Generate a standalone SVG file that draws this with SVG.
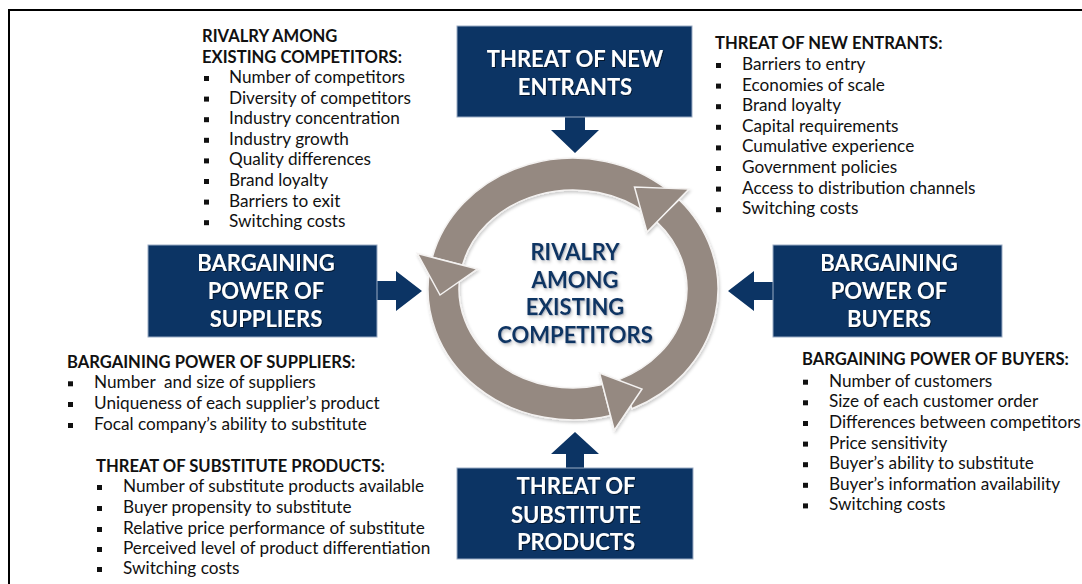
<svg xmlns="http://www.w3.org/2000/svg" width="1082" height="584" viewBox="0 0 1082 584">
  <defs>
    <style>
      .box { fill: #0c3464; stroke: #9aabc4; stroke-width: 1; }
      .boxtxt { fill: #ffffff; font-family: Lato, "Open Sans", sans-serif; font-weight: bold; font-size: 22px; text-anchor: middle; }
      .link { fill: #0c3464; }
      .ring { fill: #958981; stroke: #f4f2f1; stroke-width: 1.5; stroke-linejoin: miter; }
      .core { fill: #0c3464; font-family: Lato, "Open Sans", sans-serif; font-weight: bold; font-size: 22px; text-anchor: middle; }
      .hd { fill: #111111; font-family: Lato, "Open Sans", sans-serif; font-weight: bold; font-size: 16.6px; }
      .it { fill: #111111; font-family: Lato, "Open Sans", sans-serif; font-size: 17.2px; }
      .bul { fill: #111111; }
    </style>
    <filter id="txtShadow" x="-10%" y="-20%" width="120%" height="150%">
      <feDropShadow dx="1" dy="1" stdDeviation="0.6" flood-color="#000000" flood-opacity="0.55"/>
    </filter>
    <filter id="ringShadow" x="-10%" y="-10%" width="120%" height="120%">
      <feDropShadow dx="1" dy="2" stdDeviation="1.5" flood-color="#000000" flood-opacity="0.2"/>
    </filter>
    <filter id="glow" x="-10%" y="-20%" width="120%" height="150%">
      <feDropShadow dx="0.8" dy="0.8" stdDeviation="0.7" flood-color="#7f8fa6" flood-opacity="0.6"/>
    </filter>
    <rect id="sq" width="5" height="5"/>
  </defs>

  <rect width="1082" height="584" fill="#ffffff"/>

  <!-- frame lines -->
  <path d="M9,584 V10 H1082" fill="none" stroke="#000000" stroke-width="2"/>

  <!-- central cycle: three curved arrows around the rivalry label -->
  <g id="rivalry" filter="url(#ringShadow)">
    <path class="ring" d="M666.2,188.7 A145 131 0 0 0 432.3,257.3 L462.4,265.1 A114 99 0 0 1 646.3,213.2 Z"/>
    <path class="ring" d="M429.4,270.8 A145 131 0 0 0 610.5,415.5 L602.5,384.6 A114 99 0 0 1 460.1,275.2 Z"/>
    <path class="ring" d="M632.0,408.7 A145 131 0 0 0 679.1,199.7 L656.4,221.5 A114 99 0 0 1 619.4,379.4 Z"/>
    <polygon class="ring" points="417.3,253.4 477.3,269.0 440,295"/>
    <polygon class="ring" points="614.3,430.1 599.5,373 642,389"/>
    <polygon class="ring" points="689,189.1 647,232.1 634.5,187"/>
    <g filter="url(#glow)">
      <text class="core" x="575" y="260">RIVALRY</text>
      <text class="core" x="575" y="288">AMONG</text>
      <text class="core" x="575" y="315">EXISTING</text>
      <text class="core" x="575" y="342.5">COMPETITORS</text>
    </g>
  </g>

  <!-- connectors into the cycle -->
  <g id="connectors">
    <polygon class="link" points="565,116 585,116 585,130 599,130 575,153 551,130 565,130"/>
    <polygon class="link" points="566,469 584,469 584,454 599,454 575,432 551,454 566,454"/>
    <polygon class="link" points="376,281 396,281 396,271 422,291 396,311 396,300 376,300"/>
    <polygon class="link" points="774,282 754,282 754,271 728,291 754,311 754,300 774,300"/>
  </g>

  <!-- forces -->
  <g id="new-entrants">
    <rect class="box" x="457" y="26" width="235" height="91"/>
    <g filter="url(#txtShadow)">
      <text class="boxtxt" x="575" y="67">THREAT OF NEW</text>
      <text class="boxtxt" x="575" y="95">ENTRANTS</text>
    </g>
  </g>

  <g id="suppliers">
    <rect class="box" x="148" y="245" width="229" height="92"/>
    <g filter="url(#txtShadow)">
      <text class="boxtxt" x="266" y="271">BARGAINING</text>
      <text class="boxtxt" x="266" y="299">POWER OF</text>
      <text class="boxtxt" x="266" y="327">SUPPLIERS</text>
    </g>
  </g>

  <g id="buyers">
    <rect class="box" x="773" y="245" width="229" height="92"/>
    <g filter="url(#txtShadow)">
      <text class="boxtxt" x="889" y="271">BARGAINING</text>
      <text class="boxtxt" x="889" y="299">POWER OF</text>
      <text class="boxtxt" x="889" y="327">BUYERS</text>
    </g>
  </g>

  <g id="substitutes">
    <rect class="box" x="457" y="468" width="236" height="91"/>
    <g filter="url(#txtShadow)">
      <text class="boxtxt" x="576" y="494">THREAT OF</text>
      <text class="boxtxt" x="576" y="522.5">SUBSTITUTE</text>
      <text class="boxtxt" x="576" y="550">PRODUCTS</text>
    </g>
  </g>

  <!-- factor lists -->
  <g id="list-rivalry">
    <text class="hd" x="202" y="42">RIVALRY AMONG</text>
    <text class="hd" x="202" y="63">EXISTING COMPETITORS:</text>
    <use href="#sq" class="bul" x="204" y="76"/><text class="it" x="229" y="83">Number of competitors</text>
    <use href="#sq" class="bul" x="204" y="96.6"/><text class="it" x="229" y="103.6">Diversity of competitors</text>
    <use href="#sq" class="bul" x="204" y="117.2"/><text class="it" x="229" y="124.2">Industry concentration</text>
    <use href="#sq" class="bul" x="204" y="137.8"/><text class="it" x="229" y="144.8">Industry growth</text>
    <use href="#sq" class="bul" x="204" y="158.4"/><text class="it" x="229" y="165.4">Quality differences</text>
    <use href="#sq" class="bul" x="204" y="179"/><text class="it" x="229" y="186">Brand loyalty</text>
    <use href="#sq" class="bul" x="204" y="199.6"/><text class="it" x="229" y="206.6">Barriers to exit</text>
    <use href="#sq" class="bul" x="204" y="220.2"/><text class="it" x="229" y="227.2">Switching costs</text>
  </g>

  <g id="list-entrants">
    <text class="hd" x="715" y="49">THREAT OF NEW ENTRANTS:</text>
    <use href="#sq" class="bul" x="716" y="63"/><text class="it" x="742" y="70">Barriers to entry</text>
    <use href="#sq" class="bul" x="716" y="83.6"/><text class="it" x="742" y="90.6">Economies of scale</text>
    <use href="#sq" class="bul" x="716" y="104.2"/><text class="it" x="742" y="111.2">Brand loyalty</text>
    <use href="#sq" class="bul" x="716" y="124.8"/><text class="it" x="742" y="131.8">Capital requirements</text>
    <use href="#sq" class="bul" x="716" y="145.4"/><text class="it" x="742" y="152.4">Cumulative experience</text>
    <use href="#sq" class="bul" x="716" y="166"/><text class="it" x="742" y="173">Government policies</text>
    <use href="#sq" class="bul" x="716" y="186.6"/><text class="it" x="742" y="193.6">Access to distribution channels</text>
    <use href="#sq" class="bul" x="716" y="207.2"/><text class="it" x="742" y="214.2">Switching costs</text>
  </g>

  <g id="list-suppliers">
    <text class="hd" x="67" y="367.5">BARGAINING POWER OF SUPPLIERS:</text>
    <use href="#sq" class="bul" x="68" y="381.3"/><text class="it" x="94" y="388.3" xml:space="preserve">Number  and size of suppliers</text>
    <use href="#sq" class="bul" x="68" y="402"/><text class="it" x="94" y="409">Uniqueness of each supplier’s product</text>
    <use href="#sq" class="bul" x="68" y="423"/><text class="it" x="94" y="430">Focal company’s ability to substitute</text>
  </g>

  <g id="list-substitutes">
    <text class="hd" x="96" y="471.5">THREAT OF SUBSTITUTE PRODUCTS:</text>
    <use href="#sq" class="bul" x="97" y="485"/><text class="it" x="123" y="492">Number of substitute products available</text>
    <use href="#sq" class="bul" x="97" y="506"/><text class="it" x="123" y="513">Buyer propensity to substitute</text>
    <use href="#sq" class="bul" x="97" y="527"/><text class="it" x="123" y="534">Relative price performance of substitute</text>
    <use href="#sq" class="bul" x="97" y="547"/><text class="it" x="123" y="554">Perceived level of product differentiation</text>
    <use href="#sq" class="bul" x="97" y="567"/><text class="it" x="123" y="574">Switching costs</text>
  </g>

  <g id="list-buyers">
    <text class="hd" x="802" y="365">BARGAINING POWER OF BUYERS:</text>
    <use href="#sq" class="bul" x="803" y="379.7"/><text class="it" x="829" y="386.7">Number of customers</text>
    <use href="#sq" class="bul" x="803" y="400.3"/><text class="it" x="829" y="407.3">Size of each customer order</text>
    <use href="#sq" class="bul" x="803" y="421"/><text class="it" x="829" y="428">Differences between competitors</text>
    <use href="#sq" class="bul" x="803" y="441.6"/><text class="it" x="829" y="448.6">Price sensitivity</text>
    <use href="#sq" class="bul" x="803" y="462.2"/><text class="it" x="829" y="469.2">Buyer’s ability to substitute</text>
    <use href="#sq" class="bul" x="803" y="482.8"/><text class="it" x="829" y="489.8">Buyer’s information availability</text>
    <use href="#sq" class="bul" x="803" y="503.4"/><text class="it" x="829" y="510.4">Switching costs</text>
  </g>
</svg>
